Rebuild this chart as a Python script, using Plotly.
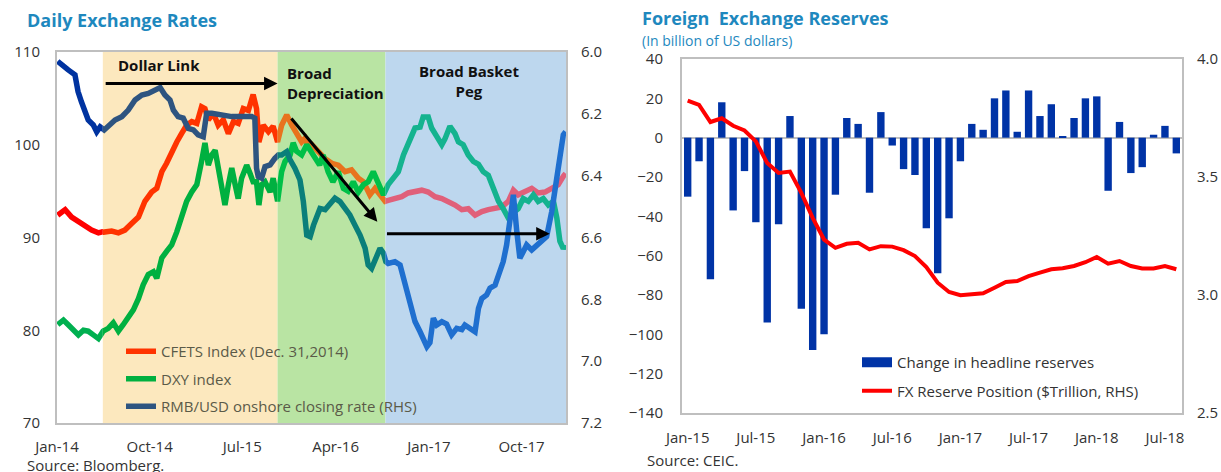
import plotly.graph_objects as go
import pandas as pd

# ---------------- Left panel: Daily exchange rates ----------------
cfets_dates = ["2014-01-03","2014-01-25","2014-02-13","2014-03-05","2014-03-25","2014-04-13","2014-05-03","2014-05-22",
               "2014-06-11","2014-07-01","2014-07-20","2014-08-09","2014-08-29","2014-09-17","2014-10-07","2014-10-22",
               "2014-11-06","2014-11-20","2014-12-05","2014-12-20","2015-01-03","2015-01-18","2015-02-02","2015-02-17",
               "2015-03-03","2015-03-13","2015-03-23","2015-04-07","2015-04-21","2015-05-06","2015-05-21","2015-06-05",
               "2015-06-19","2015-07-04","2015-07-19","2015-08-02","2015-08-12","2015-08-19","2015-09-01","2015-09-16",
               "2015-09-30","2015-10-13","2015-10-25","2015-11-09","2015-11-24","2015-12-08","2015-12-23","2016-01-02",
               "2016-01-12","2016-01-22","2016-02-10","2016-03-01","2016-03-21","2016-04-09","2016-04-29","2016-05-18",
               "2016-06-07","2016-06-22","2016-07-11","2016-07-26","2016-08-10","2016-08-25","2016-09-03","2016-09-23",
               "2016-10-13","2016-11-01","2016-11-21","2016-12-11","2016-12-30","2017-01-19","2017-02-08","2017-02-27",
               "2017-03-19","2017-04-08","2017-04-27","2017-05-17","2017-06-06","2017-06-25","2017-07-15","2017-08-04",
               "2017-08-23","2017-09-07","2017-09-21","2017-10-11","2017-10-31","2017-11-19","2017-12-09","2017-12-29",
               "2018-01-17","2018-02-01","2018-02-08"]
cfets_values = [92.4, 93.0, 92.2, 91.7, 91.2, 90.8, 90.5, 90.6,
                90.7, 90.5, 90.8, 91.5, 92.2, 93.9, 94.9, 95.3,
                97.1, 98.0, 99.3, 100.3, 101.2, 102.1, 102.5, 102.3,
                104.1, 103.9, 102.7, 103.4, 102.1, 102.7, 101.2, 102.5,
                102.3, 103.9, 103.7, 105.4, 103.9, 100.3, 102.1, 101.4,
                102.0, 100.3, 102.1, 103.2, 102.1, 101.1, 100.3, 100.7,
                99.8, 100.0, 99.3, 98.5, 98.0, 97.8, 97.1, 97.3,
                96.4, 96.0, 94.6, 95.3, 94.6, 93.9, 94.0, 94.2,
                94.4, 94.8, 94.9, 95.1, 94.9, 94.4, 94.2, 93.9,
                93.5, 93.0, 93.1, 92.4, 92.8, 93.0, 93.1, 93.3,
                93.9, 95.1, 94.6, 94.9, 95.3, 94.8, 94.9, 95.3,
                95.7, 96.6, 96.9]

dxy_dates = ["2014-01-03","2014-01-20","2014-02-03","2014-02-18","2014-03-05","2014-03-20","2014-04-03","2014-04-18",
             "2014-05-03","2014-05-17","2014-06-01","2014-06-16","2014-07-01","2014-07-15","2014-07-30","2014-08-14",
             "2014-08-29","2014-09-12","2014-09-27","2014-10-12","2014-10-22","2014-11-06","2014-11-20","2014-12-05",
             "2014-12-20","2015-01-03","2015-01-18","2015-02-02","2015-02-17","2015-03-03","2015-03-13","2015-03-23",
             "2015-04-02","2015-04-12","2015-04-21","2015-05-01","2015-05-11","2015-05-21","2015-05-31","2015-06-10",
             "2015-06-19","2015-06-29","2015-07-14","2015-07-24","2015-08-02","2015-08-12","2015-08-19","2015-08-27",
             "2015-09-06","2015-09-21","2015-09-30","2015-10-13","2015-10-25","2015-11-04","2015-11-19","2015-11-28",
             "2015-12-08","2015-12-23","2016-01-07","2016-01-31","2016-02-14","2016-02-24","2016-03-10","2016-03-24",
             "2016-04-09","2016-04-24","2016-05-08","2016-05-23","2016-06-07","2016-06-22","2016-07-06","2016-07-21",
             "2016-08-05","2016-08-20","2016-09-03","2016-09-18","2016-10-03","2016-10-18","2016-11-01","2016-11-11",
             "2016-11-21","2016-12-06","2016-12-15","2016-12-30","2017-01-09","2017-01-24","2017-02-08","2017-02-17",
             "2017-03-04","2017-03-19","2017-03-29","2017-04-12","2017-04-27","2017-05-12","2017-05-27","2017-06-10",
             "2017-06-25","2017-07-10","2017-07-25","2017-08-08","2017-08-23","2017-09-07","2017-09-21","2017-10-06",
             "2017-10-21","2017-11-05","2017-11-19","2017-12-04","2017-12-19","2018-01-03","2018-01-13","2018-01-22",
             "2018-02-01","2018-02-08"]
dxy_values = [80.6, 81.1, 80.6, 80.0, 79.5, 80.0, 79.9, 79.5,
              79.1, 79.9, 80.2, 80.8, 79.9, 80.6, 81.5, 82.2,
              83.4, 84.9, 86.0, 86.3, 85.6, 87.8, 88.5, 89.2,
              90.6, 92.4, 93.9, 94.9, 95.7, 98.2, 100.2, 97.8,
              98.9, 99.4, 97.5, 95.7, 93.5, 95.7, 97.5, 95.7,
              94.2, 96.4, 97.8, 96.9, 96.0, 96.0, 93.5, 95.7,
              96.0, 94.9, 96.4, 93.9, 97.1, 98.2, 98.9, 100.2,
              99.3, 98.9, 100.0, 98.5, 97.8, 98.9, 97.1, 96.0,
              97.1, 95.3, 95.0, 96.0, 94.9, 95.7, 96.0, 97.1,
              95.7, 94.6, 95.7, 96.4, 97.1, 98.9, 100.0, 101.1,
              101.8, 101.9, 103.0, 103.0, 101.8, 100.9, 100.0, 100.6,
              102.0, 101.2, 100.3, 100.0, 98.9, 98.2, 97.9, 97.1,
              96.7, 95.3, 93.9, 93.1, 92.1, 92.7, 93.1, 94.2,
              93.9, 94.6, 93.9, 94.2, 93.5, 93.9, 92.1, 89.6,
              88.8, 89.2]

rmb_dates = ["2014-01-03","2014-01-15","2014-02-03","2014-02-23","2014-03-04","2014-03-14","2014-03-24","2014-04-03",
             "2014-04-18","2014-04-28","2014-05-08","2014-05-20","2014-06-01","2014-06-21","2014-07-11","2014-07-30",
             "2014-08-19","2014-09-08","2014-09-27","2014-10-17","2014-11-01","2014-11-15","2014-11-30","2014-12-10",
             "2014-12-24","2015-01-08","2015-01-23","2015-02-07","2015-02-21","2015-03-08","2015-03-18","2015-04-02",
             "2015-05-01","2015-05-31","2015-06-29","2015-07-29","2015-08-07","2015-08-12","2015-08-17","2015-08-27",
             "2015-09-06","2015-09-21","2015-10-05","2015-10-15","2015-10-25","2015-11-09","2015-11-19","2015-12-03",
             "2015-12-18","2015-12-28","2016-01-07","2016-01-17","2016-01-27","2016-02-15","2016-03-01","2016-03-15",
             "2016-03-30","2016-04-14","2016-04-29","2016-05-13","2016-05-28","2016-06-12","2016-06-27","2016-07-06",
             "2016-07-16","2016-07-31","2016-08-10","2016-08-20","2016-08-27","2016-09-03","2016-09-23","2016-10-08",
             "2016-10-18","2016-10-28","2016-11-11","2016-11-21","2016-12-06","2016-12-15","2016-12-26","2017-01-04",
             "2017-01-14","2017-01-24","2017-02-08","2017-02-22","2017-03-09","2017-03-24","2017-04-08","2017-04-17",
             "2017-05-02","2017-05-17","2017-05-27","2017-06-06","2017-06-20","2017-06-30","2017-07-15","2017-07-25",
             "2017-08-08","2017-08-18","2017-08-28","2017-09-07","2017-09-17","2017-09-26","2017-10-06","2017-10-16",
             "2017-10-31","2017-11-15","2017-11-29","2017-12-14","2017-12-29","2018-01-13","2018-01-22","2018-02-01",
             "2018-02-08"]
rmb_values = [6.03, 6.042, 6.058, 6.074, 6.128, 6.161, 6.193, 6.220,
              6.236, 6.258, 6.242, 6.252, 6.240, 6.220, 6.209, 6.188,
              6.155, 6.139, 6.134, 6.123, 6.115, 6.139, 6.155, 6.188,
              6.209, 6.214, 6.247, 6.252, 6.268, 6.274, 6.198, 6.198,
              6.204, 6.209, 6.209, 6.209, 6.214, 6.376, 6.403, 6.408,
              6.371, 6.365, 6.344, 6.333, 6.333, 6.322, 6.349, 6.376,
              6.414, 6.484, 6.592, 6.597, 6.560, 6.506, 6.510, 6.495,
              6.473, 6.484, 6.506, 6.527, 6.560, 6.592, 6.635, 6.689,
              6.700, 6.657, 6.635, 6.651, 6.678, 6.684, 6.678, 6.689,
              6.732, 6.775, 6.818, 6.872, 6.905, 6.926, 6.953, 6.940,
              6.861, 6.883, 6.872, 6.880, 6.915, 6.894, 6.898, 6.883,
              6.894, 6.905, 6.829, 6.797, 6.786, 6.764, 6.754, 6.721,
              6.678, 6.624, 6.538, 6.462, 6.581, 6.667, 6.646, 6.624,
              6.640, 6.624, 6.615, 6.597, 6.516, 6.408, 6.322, 6.268,
              6.258]

# policy regimes (background shading) and the line colour seen inside each one
region_starts = ["2014-01-01", "2014-05-16", "2015-10-13", "2016-08-26"]
region_ends = ["2014-05-16", "2015-10-13", "2016-08-26", "2018-02-09"]
region_fills = [None, "#FCE8BE", "#B9E4A3", "#BDD7EE"]
cfets_colors = ["#FF0000", "#FF3300", "#E8731E", "#E0607A"]
dxy_colors = ["#00B050", "#00B040", "#00C048", "#14B38F"]
rmb_colors = ["#0033A0", "#2E5480", "#0A7F7A", "#1F6FCF"]
left_ticks = ["2014-01-01", "2014-10-01", "2015-07-01", "2016-04-01", "2017-01-01", "2017-10-01"]
left_ticktext = ["Jan-14", "Oct-14", "Jul-15", "Apr-16", "Jan-17", "Oct-17"]

# ---------------- Right panel: FX reserves ----------------
months = list(pd.date_range("2015-01-01", "2018-08-01", freq="MS").strftime("%b-%y"))
reserve_change = [-30, -12, -72, 18, -37, -17, -43, -94, -44, 11, -87, -108,
                  -100, -29, 10, 7, -28, 13, -4, -16, -19, -46, -69, -41,
                  -12, 7, 4, 20, 24, 3, 24, 11, 17, 0.5, 10, 20,
                  21, -27, 8, -18, -15, 1.5, 6, -8]
reserve_level = [3.824, 3.806, 3.733, 3.749, 3.717, 3.697, 3.651, 3.559, 3.517, 3.523, 3.433, 3.327,
                 3.235, 3.200, 3.217, 3.221, 3.193, 3.207, 3.205, 3.190, 3.165, 3.118, 3.052, 3.013,
                 2.999, 3.004, 3.007, 3.031, 3.055, 3.059, 3.080, 3.095, 3.109, 3.113, 3.123, 3.139,
                 3.161, 3.133, 3.144, 3.123, 3.112, 3.112, 3.123, 3.109]

W, H = 1221, 472
FONT = "Open Sans"
TXT = "#333333"
TITLE = "#1E88BE"
GRID = "#BFBFBF"


def px(x):
    return x / W


def py(y):
    return 1 - y / H


L0, L1 = px(57), px(566)
Y_LEFT = [py(423), py(52)]
R0, R1 = px(682), px(1182)
Y_RIGHT = [py(413), py(59)]

fig = go.Figure()

t0 = pd.Timestamp(region_starts[0])
t1 = pd.Timestamp(region_ends[-1])
total = (t1 - t0).days
region_axes = ["x5", "x6", "x7", "x8"]

series = [("CFETS Index (Dec. 31,2014)", "cfets", cfets_dates, cfets_values, cfets_colors, "y"),
          ("DXY index", "dxy", dxy_dates, dxy_values, dxy_colors, "y"),
          ("RMB/USD onshore closing rate (RHS)", "rmb", rmb_dates, rmb_values, rmb_colors, "y2")]

for name, grp, dts, vals, cols, yax in series:
    for i, xa in enumerate(region_axes):
        fig.add_trace(go.Scatter(
            x=dts, y=vals, mode="lines", name=name, legendgroup=grp,
            showlegend=(i == 1), legend="legend",
            line=dict(color=cols[i], width=5.5),
            xaxis=xa, yaxis=yax, hoverinfo="skip"))

# right panel traces
fig.add_trace(go.Bar(x=months, y=reserve_change, marker_color="#0033A6", marker_line_width=0,
                     xaxis="x3", yaxis="y3", showlegend=False, name="Change in headline reserves"))
fig.add_trace(go.Scatter(x=months, y=reserve_level, mode="lines", line=dict(color="#FF0000", width=4),
                         xaxis="x3", yaxis="y4", showlegend=False, name="FX Reserve Position ($Trillion, RHS)"))
# legend entries for right panel
fig.add_trace(go.Scatter(x=[None], y=[None], mode="lines", line=dict(color="#0033A6", width=10),
                         name="Change in headline reserves", legend="legend2", legendgroup="chg",
                         xaxis="x3", yaxis="y3"))
fig.add_trace(go.Scatter(x=[None], y=[None], mode="lines", line=dict(color="#FF0000", width=4),
                         name="FX Reserve Position ($Trillion, RHS)", legend="legend2", legendgroup="lvl",
                         xaxis="x3", yaxis="y4"))

common_tick = dict(showgrid=False, ticks="", automargin=False, tickfont=dict(size=15, color=TXT))

layout = dict(
    width=W, height=H, margin=dict(l=0, r=0, t=0, b=0, autoexpand=False),
    paper_bgcolor="white", plot_bgcolor="rgba(0,0,0,0)",
    font=dict(family=FONT, size=15, color=TXT),
    bargap=0.35,
    xaxis=dict(domain=[L0, L1], anchor="y", type="date", range=[region_starts[0], region_ends[-1]],
               tickvals=left_ticks, ticktext=left_ticktext, zeroline=False,
               showline=True, linecolor=GRID, linewidth=2, mirror=True,
               ticklabelstandoff=9, **common_tick),
    yaxis=dict(domain=Y_LEFT, anchor="x", range=[70, 110], dtick=10, zeroline=False,
               showline=True, linecolor=GRID, linewidth=2, mirror=True,
               ticklabelstandoff=12, **common_tick),
    yaxis2=dict(overlaying="y", anchor="x", side="right", range=[7.2, 6.0], dtick=0.2, tickformat=".1f",
                zeroline=False, showline=False, ticklabelstandoff=14, **common_tick),
    xaxis3=dict(domain=[R0, R1], anchor="y3", type="category", range=[-0.5, len(months) - 0.5],
                tickvals=months[::6], zeroline=False, showline=True, linecolor=GRID,
                linewidth=2, mirror=True, ticklabelstandoff=10, **common_tick),
    yaxis3=dict(domain=Y_RIGHT, anchor="x3", range=[-140, 40], dtick=20,
                zeroline=True, zerolinecolor=GRID, zerolinewidth=2,
                showline=True, linecolor=GRID, linewidth=2, mirror=True,
                ticklabelstandoff=14, **common_tick),
    yaxis4=dict(overlaying="y3", anchor="x3", side="right", range=[2.5, 4.0], dtick=0.5, tickformat=".1f",
                zeroline=False, showline=False, ticklabelstandoff=14, **common_tick),
    legend=dict(x=px(121), y=py(335), xanchor="left", yanchor="top", bgcolor="rgba(0,0,0,0)",
                font=dict(size=15, color="#5A5A48"), traceorder="grouped", tracegroupgap=5,
                itemclick=False, itemdoubleclick=False),
    legend2=dict(x=px(857), y=py(346), xanchor="left", yanchor="top", bgcolor="rgba(0,0,0,0)",
                 font=dict(size=15, color=TXT), traceorder="grouped", tracegroupgap=6,
                 itemclick=False, itemdoubleclick=False),
)

for i, xa in enumerate(region_axes):
    a = (pd.Timestamp(region_starts[i]) - t0).days / total
    b = (pd.Timestamp(region_ends[i]) - t0).days / total
    layout["xaxis" + xa[1:]] = dict(domain=[L0 + a * (L1 - L0), L0 + b * (L1 - L0)], anchor="y",
                                    type="date", range=[region_starts[i], region_ends[i]], visible=False,
                                    automargin=False)

fig.update_layout(**layout)

# background regime shading
for i in range(4):
    if region_fills[i]:
        fig.add_shape(type="rect", xref="x", yref="y domain", x0=region_starts[i], x1=region_ends[i],
                      y0=0, y1=1, fillcolor=region_fills[i], line_width=0, layer="below")

# arrows
arrows = [("2014-05-20", 106.6, "2015-10-13", 106.6),
          ("2015-11-19", 103.0, "2016-08-02", 91.7),
          ("2016-08-26", 90.4, "2017-12-23", 90.4)]
for ax_, ay_, x_, y_ in arrows:
    fig.add_annotation(x=x_, y=y_, ax=ax_, ay=ay_, xref="x", yref="y", axref="x", ayref="y",
                       text="", showarrow=True, arrowhead=2, arrowsize=0.9, arrowwidth=3, arrowcolor="#000000")

labels = [("<b>Dollar Link</b>", 159, 64.5, "center"),
          ("<b>Broad<br>Depreciation</b>", 285, 83, "left"),
          ("<b>Broad Basket<br>Peg</b>", 469, 81, "center")]
for t, xx, yy, anc in labels:
    fig.add_annotation(text=t, x=px(xx), y=py(yy), xref="paper", yref="paper", xanchor=anc,
                       yanchor="middle", align=anc, showarrow=False,
                       font=dict(family=FONT, size=15, color="#111111"))

fig.add_annotation(text="<b>Daily Exchange Rates</b>", x=px(25), y=py(20), xref="paper", yref="paper",
                   xanchor="left", yanchor="middle", showarrow=False,
                   font=dict(family=FONT, size=18, color=TITLE))
fig.add_annotation(text="<b>Foreign  Exchange Reserves</b>", x=px(640), y=py(18), xref="paper", yref="paper",
                   xanchor="left", yanchor="middle", showarrow=False,
                   font=dict(family=FONT, size=18, color=TITLE))
fig.add_annotation(text="(In billion of US dollars)", x=px(640), y=py(41), xref="paper", yref="paper",
                   xanchor="left", yanchor="middle", showarrow=False,
                   font=dict(family=FONT, size=14, color=TITLE))
fig.add_annotation(text="Source: Bloomberg.", x=px(25), y=py(465), xref="paper", yref="paper",
                   xanchor="left", yanchor="middle", showarrow=False,
                   font=dict(family=FONT, size=15, color=TXT))
fig.add_annotation(text="Source: CEIC.", x=px(645), y=py(460), xref="paper", yref="paper",
                   xanchor="left", yanchor="middle", showarrow=False,
                   font=dict(family=FONT, size=15, color=TXT))

fig.write_html("out.html", config={"displayModeBar": False},
               post_script="document.body.style.margin='0';document.body.style.overflow='hidden';")
